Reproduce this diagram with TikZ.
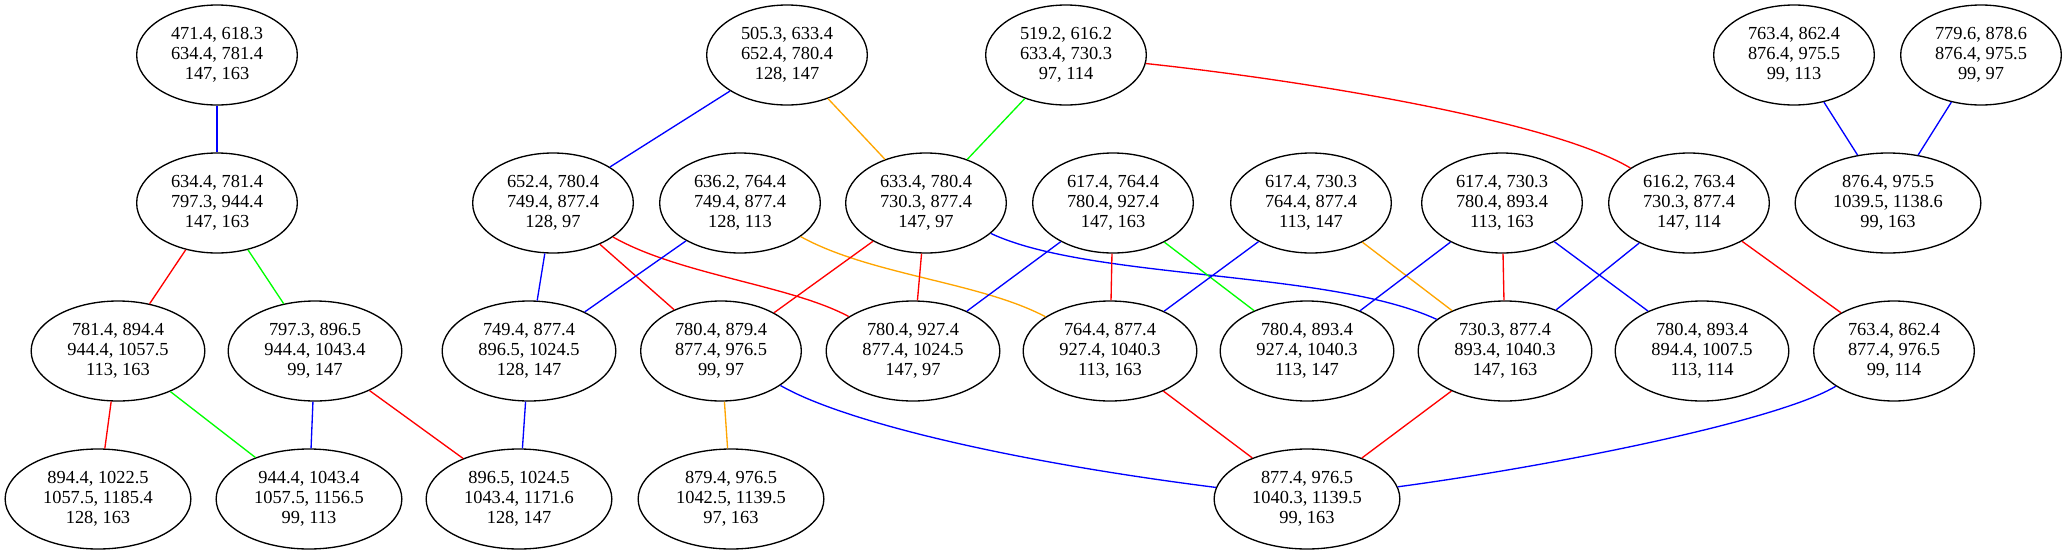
\documentclass[tikz,border=0pt]{standalone}
\usepackage{fontspec}
\setmainfont{Liberation Serif}
\usetikzlibrary{shapes.geometric}
\definecolor{gvorange}{RGB}{255,165,0}
\definecolor{gvgreen}{RGB}{0,255,0}
\definecolor{gvblue}{RGB}{0,0,255}
\definecolor{gvred}{RGB}{255,0,0}
\begin{document}
\begin{tikzpicture}[x=0.75pt,y=-0.75pt,
  gv/.style={ellipse, draw=black, line width=1pt, inner xsep=8.1pt, inner ysep=2pt,
    minimum height=75pt, align=center, font=\fontsize{13.8}{14.85}\selectfont},
  eblue/.style={draw=gvblue, line width=1pt},
  ered/.style={draw=gvred, line width=1pt},
  egreen/.style={draw=gvgreen, line width=1pt},
  eorange/.style={draw=gvorange, line width=1pt}]
\useasboundingbox (0,0) rectangle (2068,554);
% row 1
\node[gv] (A) at (217,55) {471.4, 618.3\\634.4, 781.4\\147, 163};
\node[gv] (B) at (787,55) {505.3, 633.4\\652.4, 780.4\\128, 147};
\node[gv] (C) at (1066,55) {519.2, 616.2\\633.4, 730.3\\97, 114};
\node[gv] (D) at (1794,55) {763.4, 862.4\\876.4, 975.5\\99, 113};
\node[gv] (E) at (1981,55) {779.6, 878.6\\876.4, 975.5\\99, 97};
% row 2
\node[gv] (F) at (217,203) {634.4, 781.4\\797.3, 944.4\\147, 163};
\node[gv] (G) at (553,203) {652.4, 780.4\\749.4, 877.4\\128, 97};
\node[gv] (H) at (740,203) {636.2, 764.4\\749.4, 877.4\\128, 113};
\node[gv] (I) at (926,203) {633.4, 780.4\\730.3, 877.4\\147, 97};
\node[gv] (J) at (1113,203) {617.4, 764.4\\780.4, 927.4\\147, 163};
\node[gv] (K) at (1311,203) {617.4, 730.3\\764.4, 877.4\\113, 147};
\node[gv] (L) at (1502,203) {617.4, 730.3\\780.4, 893.4\\113, 163};
\node[gv] (M) at (1689,203) {616.2, 763.4\\730.3, 877.4\\147, 114};
\node[gv] (N) at (1888,203) {876.4, 975.5\\1039.5, 1138.6\\99, 163};
% row 3
\node[gv] (O) at (118,351) {781.4, 894.4\\944.4, 1057.5\\113, 163};
\node[gv] (P) at (315,351) {797.3, 896.5\\944.4, 1043.4\\99, 147};
\node[gv] (Q) at (529,351) {749.4, 877.4\\896.5, 1024.5\\128, 147};
\node[gv] (R) at (721,351) {780.4, 879.4\\877.4, 976.5\\99, 97};
\node[gv] (S) at (913,351) {780.4, 927.4\\877.4, 1024.5\\147, 97};
\node[gv] (T) at (1110,351) {764.4, 877.4\\927.4, 1040.3\\113, 163};
\node[gv] (U) at (1307,351) {780.4, 893.4\\927.4, 1040.3\\113, 147};
\node[gv] (V) at (1505,351) {730.3, 877.4\\893.4, 1040.3\\147, 163};
\node[gv] (W) at (1702,351) {780.4, 893.4\\894.4, 1007.5\\113, 114};
\node[gv] (X) at (1894,351) {763.4, 862.4\\877.4, 976.5\\99, 114};
% row 4
\node[gv] (Y) at (98,499) {894.4, 1022.5\\1057.5, 1185.4\\128, 163};
\node[gv] (Z) at (309,499) {944.4, 1043.4\\1057.5, 1156.5\\99, 113};
\node[gv] (AA) at (519,499) {896.5, 1024.5\\1043.4, 1171.6\\128, 147};
\node[gv] (AB) at (731,499) {879.4, 976.5\\1042.5, 1139.5\\97, 163};
\node[gv] (AC) at (1307,499) {877.4, 976.5\\1040.3, 1139.5\\99, 163};
% edges
\draw[eblue] (A) -- (F);
\draw[eblue] (B) -- (G);
\draw[eorange] (B) -- (I);
\draw[egreen] (C) -- (I);
\draw[ered] (C) .. controls (1300,80) and (1550,120) .. (M);
\draw[eblue] (D) -- (N);
\draw[eblue] (E) -- (N);
\draw[ered] (F) -- (O);
\draw[egreen] (F) -- (P);
\draw[eblue] (G) -- (Q);
\draw[ered] (G) -- (R);
\draw[ered] (G) .. controls (680,275) and (790,285) .. (S);
\draw[eblue] (H) -- (Q);
\draw[eorange] (H) .. controls (870,275) and (980,282) .. (T);
\draw[ered] (I) -- (R);
\draw[ered] (I) -- (S);
\draw[eblue] (I) .. controls (1090,280) and (1330,270) .. (V);
\draw[eblue] (J) -- (S);
\draw[ered] (J) -- (T);
\draw[egreen] (J) -- (U);
\draw[eblue] (K) -- (T);
\draw[eorange] (K) -- (V);
\draw[eblue] (L) -- (U);
\draw[ered] (L) -- (V);
\draw[eblue] (L) -- (W);
\draw[eblue] (M) -- (V);
\draw[ered] (M) -- (X);
\draw[ered] (O) -- (Y);
\draw[egreen] (O) -- (Z);
\draw[eblue] (P) -- (Z);
\draw[ered] (P) -- (AA);
\draw[eblue] (Q) -- (AA);
\draw[eorange] (R) -- (AB);
\draw[eblue] (R) .. controls (840,420) and (1000,460) .. (AC);
\draw[ered] (T) -- (AC);
\draw[ered] (V) -- (AC);
\draw[eblue] (X) .. controls (1780,420) and (1560,465) .. (AC);
\end{tikzpicture}
\end{document}
